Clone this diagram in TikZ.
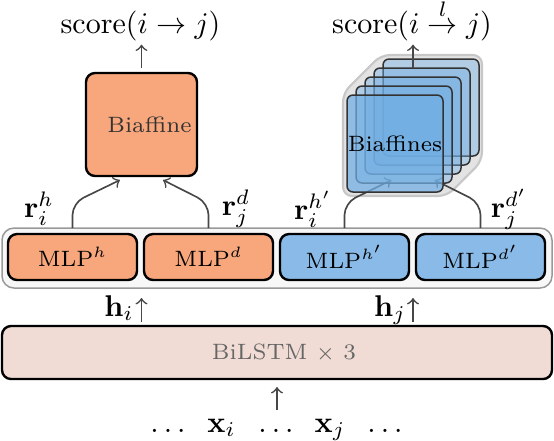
\documentclass[tikz,border=0pt]{standalone}
\usetikzlibrary{calc}
\definecolor{orng}{HTML}{F8A77C}
\definecolor{mlpblue}{HTML}{8ABBE8}
\definecolor{cardblue}{HTML}{70AEE4}
\definecolor{lstm}{HTML}{F0DCD4}
\definecolor{arr}{HTML}{474747}
\newcommand{\mydots}{.\kern1.67pt.\kern1.67pt.}
\begin{document}
\begin{tikzpicture}[x=0.33333pt,y=-0.33333pt,
  box/.style={draw=black, line width=0.8pt, rounded corners=3pt, inner sep=0pt, outer sep=0pt},
  small/.style={font=\fontsize{7.4}{9}\selectfont},
  conn/.style={->, draw=arr, line width=0.55pt},
  lbl/.style={inner sep=1pt},
  card/.style={draw=black!80, fill=cardblue, line width=0.5pt, rounded corners=2pt,
               minimum width=32pt, minimum height=32.33pt, inner sep=0pt, outer sep=0pt, text opacity=1},
  mlp/.style={box, small, minimum width=43pt, minimum height=15.33pt},
]
\useasboundingbox (0,0) rectangle (554,440);

% top scores
\node[lbl, anchor=base] (score1) at (140.5,33.5) {$\mathrm{score}(i \rightarrow j)$};
\node[lbl, anchor=base] (score2) at (412,33.5) {$\mathrm{score}(i \stackrel{l}{\rightarrow} j)$};

% outer MLP container
\node[draw=black!40, fill=black!3, line width=0.5pt, rounded corners=4pt,
      minimum width=183.33pt, minimum height=20pt, inner sep=0pt, outer sep=0pt] (outer) at (277,258) {};

% MLP boxes
\node[mlp, fill=orng] (mlph) at (72.5,257) {MLP$^{h}$};
\node[mlp, fill=orng] (mlpd) at (208.5,257) {MLP$^{d}$};
\node[mlp, fill=mlpblue] (mlphp) at (344.5,257) {MLP$^{h'}$};
\node[mlp, fill=mlpblue] (mlpdp) at (480.5,257) {MLP$^{d'}$};

% left biaffine
\node[box, fill=orng, minimum width=37pt, minimum height=34.33pt,
      label={[small, text=black!80, xshift=2.67pt]center:Biaffine}] (biaf) at (141.5,124.5) {};

% r labels
\node (rih) at (39,209) {$\mathbf{r}_i^{h}$};
\node (rjd) at (236,209) {$\mathbf{r}_j^{d}$};
\node (rihp) at (313,209) {$\mathbf{r}_i^{h'}$};
\node (rjdp) at (509,209) {$\mathbf{r}_j^{d'}$};

% arrows into left biaffine
\draw[conn, rounded corners=4pt] (mlph.north |- outer.north) -- ++(0,-25) -- ($(biaf.south)+(-21.5,4)$);
\draw[conn, rounded corners=4pt] (mlpd.north |- outer.north) -- ++(0,-25) -- ($(biaf.south)+(21.5,4)$);
\draw[conn] ($(biaf.north)+(0,-5)$) -- (biaf.north |- score1.south);

% stack background
\draw[draw=black!22, fill=black!11, line width=0.7pt, rounded corners=3pt]
  (343,196) -- (343,93) -- (381,55) -- (482,55) -- (482,161) -- (447,196) -- cycle;

% coordinates for stack arrows
\coordinate (stackc) at (413,125.5);
\draw[conn, rounded corners=4pt] (mlphp.north |- outer.north) -- ++(0,-25) -- ($(stackc)+(-21.5,54.5)$);
\draw[conn, rounded corners=4pt] (mlpdp.north |- outer.north) -- ++(0,-25) -- ($(stackc)+(21.5,54.5)$);

% cards
\foreach \i/\x/\y in {5/431/107.5, 4/422/116.5, 3/413/125.5, 2/404/134.5}
  \node[card, fill opacity=0.42] (card\i) at (\x,\y) {};
\node[card, fill opacity=0.72, small] (card1) at (395,143.5) {Biaffines};

\draw[conn] (card3.center |- card4.north) -- (card3.center |- score2.south);

% BiLSTM
\node[box, fill=lstm, minimum width=183.33pt, minimum height=17.67pt,
      label={[small, text=black!60, xshift=2.33pt]center:BiLSTM $\times$ 3}] (bilstm) at (277,352.5) {};

% h labels and arrows
\node[anchor=base] (hi) at (119,316) {$\mathbf{h}_i$};
\node[anchor=base] (hj) at (390,316) {$\mathbf{h}_j$};
\draw[conn] ($(biaf.center |- bilstm.north)+(0,-4)$) -- ($(biaf.center |- outer.south)+(0,10)$);
\draw[conn] ($(card3.center |- bilstm.north)+(0,-4)$) -- ($(card3.center |- outer.south)+(0,10)$);

% input row
\node[anchor=base] (dots1) at (168,432) {\mydots};
\node[anchor=base] (xi) at (221.5,432) {$\mathbf{x}_i$};
\node[anchor=base] (dots2) at (276,432) {\mydots};
\node[anchor=base] (xj) at (330,432) {$\mathbf{x}_j$};
\node[anchor=base] (dots3) at (385,432) {\mydots};
\draw[conn] ($(bilstm.south)+(0,31)$) -- ($(bilstm.south)+(0,8)$);
\end{tikzpicture}
\end{document}
